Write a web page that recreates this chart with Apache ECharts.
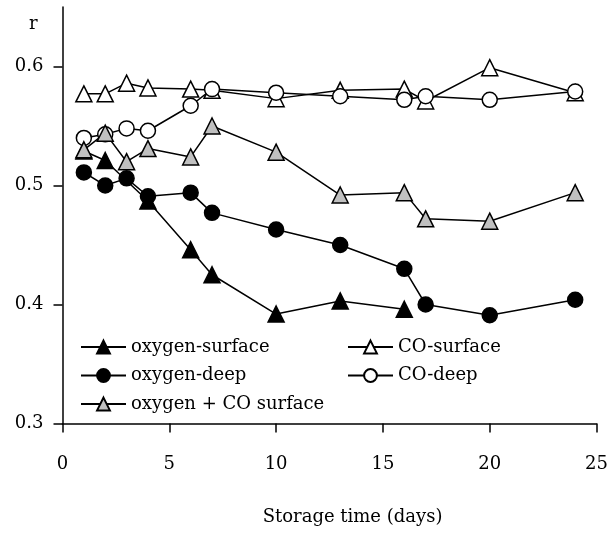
<!DOCTYPE html>
<html>
<head>
<meta charset="utf-8">
<script src="https://cdn.jsdelivr.net/npm/echarts@6/dist/echarts.min.js"></script>
<style>
  html, body { margin: 0; padding: 0; background: #fff; }
  #chart { width: 611px; height: 534px; }
</style>
</head>
<body>
<div id="chart"></div>
<script>
// storage days (x) for every series
const days = [1, 2, 3, 4, 6, 7, 10, 13, 16, 17, 20, 24]
const oxySurfaceDays = [1, 2, 4, 6, 7, 10, 13, 16]

const oxygenSurface = [0.529, 0.521, 0.487, 0.446, 0.425, 0.392, 0.403, 0.396]
const coSurface = [0.577, 0.577, 0.586, 0.582, 0.581, 0.580, 0.573, 0.580, 0.581, 0.571, 0.599, 0.578]
const oxygenDeep = [0.511, 0.500, 0.506, 0.491, 0.494, 0.477, 0.463, 0.450, 0.430, 0.400, 0.391, 0.404]
const coDeep = [0.540, 0.543, 0.548, 0.546, 0.567, 0.581, 0.578, 0.575, 0.572, 0.575, 0.572, 0.579]
const oxygenCoSurface = [0.530, 0.544, 0.520, 0.531, 0.524, 0.550, 0.528, 0.492, 0.494, 0.472, 0.470, 0.494]

const yTicks = [0.3, 0.4, 0.5, 0.6]

const FONT = 'DejaVu Serif'

function pairs(xs, ys) {
  return ys.map((v, i) => [xs[i], v])
}

function lineSeries(name, data, symbol, fill) {
  return {
    name: name,
    type: 'line',
    data: data,
    symbol: symbol,
    symbolSize: symbol === 'circle' ? 15 : 16,
    lineStyle: { color: '#000', width: 1.5 },
    itemStyle: { color: fill, borderColor: '#000', borderWidth: 1.5 },
    emphasis: { disabled: true },
    animation: false
  }
}

const legendCommon = {
  orient: 'vertical',
  top: 333,
  itemWidth: 45,
  itemHeight: 16,
  itemGap: 10.5,
  textStyle: { fontFamily: FONT, fontSize: 18, color: '#000' }
}

const chart = echarts.init(document.getElementById('chart'))
chart.setOption({
  animation: false,
  title: {
    text: 'r',
    left: 24,
    top: 10,
    textStyle: { fontFamily: FONT, fontSize: 18, fontWeight: 'normal', color: '#000' }
  },
  legend: [
    Object.assign({ left: 75, data: ['oxygen-surface', 'oxygen-deep', 'oxygen + CO surface'] }, legendCommon),
    Object.assign({ left: 342, data: ['CO-surface', 'CO-deep'] }, legendCommon)
  ],
  grid: {
    left: 62.5,
    right: 14,
    top: 7,
    bottom: 110.5
  },
  xAxis: {
    type: 'value',
    min: 0,
    max: 25,
    interval: 5,
    name: 'Storage time (days)',
    nameLocation: 'middle',
    nameGap: 85,
    nameTextStyle: { fontFamily: FONT, fontSize: 18, color: '#000', padding: [0, 0, 0, 46] },
    axisLine: { lineStyle: { color: '#000', width: 1.5 } },
    axisTick: { length: 9, lineStyle: { color: '#000', width: 1.5 } },
    axisLabel: { margin: 32, fontFamily: FONT, fontSize: 18, color: '#000' },
    splitLine: { show: false }
  },
  yAxis: {
    type: 'value',
    min: 0.3,
    max: 0.65,
    interval: 0.1,
    axisLine: { show: true, lineStyle: { color: '#000', width: 1.5 } },
    axisTick: { show: true, length: 9, customValues: yTicks, lineStyle: { color: '#000', width: 1.5 } },
    axisLabel: {
      margin: 19,
      customValues: yTicks,
      fontFamily: FONT,
      fontSize: 18,
      color: '#000',
      formatter: (v) => v.toFixed(1)
    },
    splitLine: { show: false }
  },
  series: [
    lineSeries('oxygen-surface', pairs(oxySurfaceDays, oxygenSurface), 'triangle', '#000'),
    lineSeries('CO-surface', pairs(days, coSurface), 'triangle', '#fff'),
    lineSeries('oxygen-deep', pairs(days, oxygenDeep), 'circle', '#000'),
    lineSeries('CO-deep', pairs(days, coDeep), 'circle', '#fff'),
    lineSeries('oxygen + CO surface', pairs(days, oxygenCoSurface), 'triangle', '#c0c0c0')
  ]
})
</script>
</body>
</html>
